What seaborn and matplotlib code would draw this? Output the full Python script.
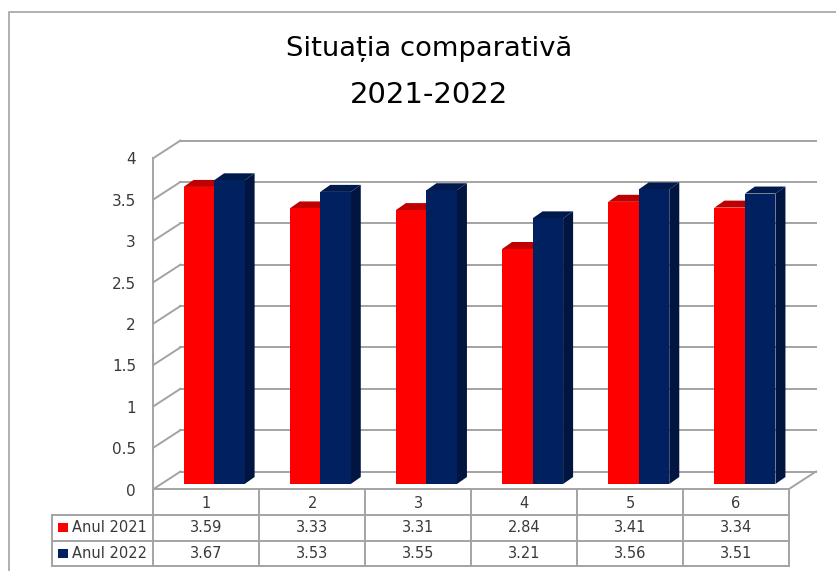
import pandas as pd
import numpy as np
import matplotlib
matplotlib.use('Agg')
import matplotlib.pyplot as plt
import seaborn as sns
from matplotlib.patches import Polygon, Rectangle

categorii = ['1', '2', '3', '4', '5', '6']
valori_2021 = [3.59, 3.33, 3.31, 2.84, 3.41, 3.34]
valori_2022 = [3.67, 3.53, 3.55, 3.21, 3.56, 3.51]
serii = ['Anul 2021', 'Anul 2022']
y_ticks = [0, 0.5, 1, 1.5, 2, 2.5, 3, 3.5, 4]
y_labels = ['0', '0.5', '1', '1.5', '2', '2.5', '3', '3.5', '4']

df = pd.DataFrame({
    'categorie': categorii * 2,
    'serie': [serii[0]] * 6 + [serii[1]] * 6,
    'valoare': valori_2021 + valori_2022,
})

sns.set_theme(style='white')
plt.rcParams['font.family'] = ['DejaVu Sans']

W, H = 837, 571
GRI = '#a3a3a3'
TEXT = '#3a3a3a'
culori = {'Anul 2021': '#ff0000', 'Anul 2022': '#002060'}
culori_sus = ['#c00000', '#001a4d']
culori_lat = ['#cc0000', '#001540']

fig = plt.figure(figsize=(W / 100, H / 100), dpi=100, facecolor='white')

# pixel layer for frame, walls and table
ov = fig.add_axes([0, 0, 1, 1], zorder=0)
ov.set_xlim(0, W)
ov.set_ylim(H, 0)
ov.axis('off')

# bars
ax = fig.add_axes([161 / W, (H - 484) / H, 637 / W, 331 / H], zorder=1)
ax.patch.set_alpha(0)
sns.barplot(data=df, x='categorie', y='valoare', hue='serie', palette=culori,
            width=0.575, gap=0, saturation=1, legend=False, linewidth=0, ax=ax)
ax.set_xlim(-0.5, 5.5)
ax.set_ylim(0, 4)
ax.axis('off')


def linie(xs, ys, lw=1.4):
    ov.plot(xs, ys, color=GRI, lw=lw, solid_capstyle='projecting')


# outer frame
linie([9.5, 9.5, W], [H, 11.5, 11.5], lw=1.2)

# walls
x0, x1 = 153.5, 789
y_fata0, y_fata4 = 489, 158
dx, dy = 27, -17.5
for v in y_ticks:
    y = y_fata0 + (y_fata4 - y_fata0) * v / 4
    linie([x0, x0 + dx], [y, y + dy])
    linie([x0 + dx, x1 + dx], [y + dy, y + dy])
    ov.text(136, y + 2, y_labels[y_ticks.index(v)], ha='right', va='center',
            fontsize=11, color=TEXT)
linie([x0, x0], [y_fata0, y_fata4])
linie([x0, x1, x1 + dx], [y_fata0, y_fata0, y_fata0 + dy])

# 3d faces of the bars
fig.canvas.draw()
adancime_x, adancime_y = 10, -7
for s, bare in enumerate(ax.containers):
    for b in bare:
        (xa, ya), (xb, yb) = ov.transData.inverted().transform(
            ax.transData.transform([(b.get_x(), 0), (b.get_x() + b.get_width(), b.get_height())]))
        sus = [(xa, yb), (xb, yb), (xb + adancime_x, yb + adancime_y), (xa + adancime_x, yb + adancime_y)]
        lat = [(xb, yb), (xb + adancime_x, yb + adancime_y), (xb + adancime_x, ya + adancime_y), (xb, ya)]
        z = 1 if s == 0 else 3
        ax.add_patch(Polygon(sus, closed=True, fc=culori_sus[s], ec='none', transform=ov.transData, clip_on=False, zorder=z))
        ax.add_patch(Polygon(lat, closed=True, fc=culori_lat[s], ec='none', transform=ov.transData, clip_on=False, zorder=z))
        b.set_zorder(2 if s == 0 else 4)

# data table
x_col = np.linspace(x0, x1, 7)
y_rand = [489, 514.5, 540.5, 566]
for x in x_col:
    linie([x, x], [y_rand[0], y_rand[3]])
linie([52, x1], [y_rand[1], y_rand[1]])
linie([52, x1], [y_rand[2], y_rand[2]])
linie([52, x1], [y_rand[3], y_rand[3]])
linie([52, 52], [y_rand[1], y_rand[3]])

for i, c in enumerate(categorii):
    xc = (x_col[i] + x_col[i + 1]) / 2
    ov.text(xc, (y_rand[0] + y_rand[1]) / 2 + 2, c, ha='center', va='center', fontsize=10.5, color=TEXT)
    ov.text(xc, (y_rand[1] + y_rand[2]) / 2, f'{valori_2021[i]:.2f}', ha='center', va='center', fontsize=10.5, color=TEXT)
    ov.text(xc, (y_rand[2] + y_rand[3]) / 2, f'{valori_2022[i]:.2f}', ha='center', va='center', fontsize=10.5, color=TEXT)

for r, s in enumerate(serii):
    yc = (y_rand[r + 1] + y_rand[r + 2]) / 2
    ov.add_patch(Rectangle((58, yc - 4.5), 10, 9, fc=culori[s], ec='none'))
    ov.text(72.5, yc, s, ha='left', va='center', fontsize=10.5, color=TEXT)

# title
ov.text(429, 49, 'Situația comparativă', ha='center', va='center', fontsize=19.7, color='black')
ov.text(429, 95, '2021-2022', ha='center', va='center', fontsize=21, color='black')

fig.savefig('out.png', dpi=100)
